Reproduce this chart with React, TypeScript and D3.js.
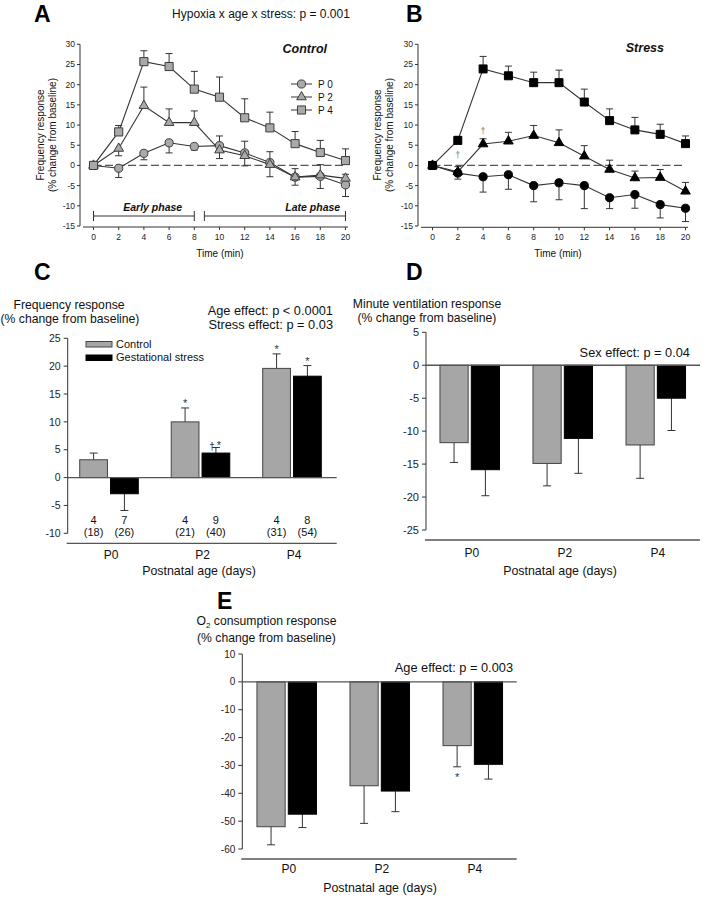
import React from "react";
import * as d3 from "d3";

const FONT = "'Liberation Sans', Arial, Helvetica, sans-serif";

// ---------- Panels A & B : time course ----------
const timeMin = [0, 2, 4, 6, 8, 10, 12, 14, 16, 18, 20];
const timeTicks = [0, 2, 4, 6, 8, 10, 12, 14, 16, 18, 20];
const freqTicks = [30, 25, 20, 15, 10, 5, 0, -5, -10, -15];
const ageNames = ["P 0", "P 2", "P 4"];

const ctrlP0 = [0, -0.7, 3.0, 5.6, 4.7, 4.9, 3.1, 0.7, -2.9, -2.7, -4.8];
const ctrlP0Err = [0, 2.3, 1.6, 2.5, 0.9, 2.4, 2.9, 2.7, 2.1, 3.0, 2.9];
const ctrlP0Dir = [1, -1, -1, -1, -1, 1, 1, 1, 1, -1, -1];
const ctrlP2 = [0, 4.2, 14.8, 10.6, 10.6, 3.8, 2.4, 0.2, -2.9, -2.4, -3.2];
const ctrlP2Err = [0, 1.8, 4.6, 3.4, 2.9, 2.1, 2.5, 3.0, 2.0, 2.6, 1.0];
const ctrlP2Dir = [1, -1, 1, 1, 1, -1, -1, -1, -1, 1, 1];
const ctrlP4 = [0, 8.3, 25.7, 24.5, 18.9, 16.9, 11.8, 9.3, 5.4, 3.2, 1.2];
const ctrlP4Err = [0, 1.6, 2.7, 3.2, 4.4, 5.0, 4.7, 3.9, 3.0, 3.0, 2.9];
const ctrlP4Dir = [1, 1, 1, 1, 1, 1, 1, 1, 1, 1, 1];

const stressP0 = [0, -1.9, -2.8, -2.3, -5.0, -4.3, -5.0, -8.0, -7.2, -9.7, -10.6];
const stressP0Err = [0, 1.5, 3.8, 3.6, 4.0, 4.2, 5.7, 2.7, 3.4, 3.3, 3.3];
const stressP0Dir = [-1, -1, -1, -1, -1, -1, -1, -1, -1, -1, -1];
const stressP2 = [0, -1.6, 5.3, 6.0, 7.4, 5.6, 2.3, -1.0, -3.1, -3.0, -6.4];
const stressP2Err = [0, 1.3, 1.3, 2.2, 2.5, 3.2, 2.6, 2.3, 1.7, 2.0, 2.2];
const stressP2Dir = [1, 1, 1, 1, 1, 1, 1, 1, 1, 1, 1];
const stressP4 = [0, 6.2, 23.9, 22.2, 20.5, 20.5, 15.7, 11.1, 8.8, 7.7, 5.4];
const stressP4Err = [0, 1.0, 3.1, 2.4, 2.6, 3.1, 3.2, 2.9, 3.1, 2.5, 1.9];
const stressP4Dir = [1, 1, 1, 1, 1, 1, 1, 1, 1, 1, 1];

const stressDaggerTimes = [2, 4];
const stressDaggerValues = [2.5, 8.5];

const phaseLabels = ["Early phase", "Late phase"];
const phaseStart = [0, 8.8];
const phaseEnd = [8, 20];
const phaseLabelAt = [4.7, 17.4];

// ---------- Panels C, D, E : bar charts ----------
const ageGroups = ["P0", "P2", "P4"];
const groupNames = ["Control", "Gestational stress"];

const freqTicksC = [25, 20, 15, 10, 5, 0, -5, -10];
const freqCtrl = [3.2, 10.0, 19.6];
const freqCtrlErr = [1.2, 2.5, 2.6];
const freqStress = [-2.9, 4.4, 18.2];
const freqStressErr = [3.0, 1.0, 1.9];
const freqCtrlMarks = ["", "*", "*"];
const freqStressMarks = ["", "†*", "*"];
const littersCtrl = [4, 4, 4];
const pupsCtrl = [18, 21, 31];
const littersStress = [7, 9, 8];
const pupsStress = [26, 40, 54];

const veTicks = [5, 0, -5, -10, -15, -20, -25];
const veCtrl = [-11.75, -14.9, -12.1];
const veCtrlErr = [3.0, 3.4, 5.05];
const veStress = [-15.85, -11.1, -5.0];
const veStressErr = [3.95, 5.3, 4.9];

const o2Ticks = [10, 0, -10, -20, -30, -40, -50, -60];
const o2Ctrl = [-52.0, -37.3, -22.9];
const o2CtrlErr = [6.5, 13.5, 7.6];
const o2Stress = [-47.5, -39.2, -29.6];
const o2StressErr = [4.8, 7.4, 5.3];
const o2CtrlMarks = ["", "", "*"];
const noMarks = ["", "", ""];

const AX = "#333";

type Series = {
  name: string;
  values: number[];
  errs: number[];
  dirs: number[];
  shape: d3.SymbolType;
  size: number;
};

function TimePanel(props: {
  x0: number;
  x1: number;
  axisX: number;
  axisY: number;
  lineStart: number;
  lineEnd: number;
  series: Series[];
  fill: string;
  stroke: string;
  extra?: (x: d3.ScaleLinear<number, number>, y: d3.ScaleLinear<number, number>) => React.ReactNode;
}) {
  const { x0, x1, axisX, axisY, lineStart, lineEnd, series, fill, stroke } = props;
  const x = d3.scaleLinear().domain([0, 20]).range([x0, x1]);
  const y = d3.scaleLinear().domain([-15, 30]).range([226, 44.3]);
  const line = d3
    .line<number>()
    .x((_, i) => x(timeMin[i]))
    .y((d) => y(d));
  return (
    <g fontFamily={FONT}>
      <line x1={axisX} x2={axisX} y1={y(30)} y2={y(-15)} stroke={AX} strokeWidth={1} />
      {freqTicks.map((t) => (
        <g key={t}>
          <line x1={axisX - 3} x2={axisX} y1={y(t)} y2={y(t)} stroke={AX} />
          <text x={axisX - 5} y={y(t)} dy="0.34em" textAnchor="end" fontSize={8.5} fill="#222">
            {String(t)}
          </text>
        </g>
      ))}
      <line x1={lineStart} x2={lineEnd} y1={axisY} y2={axisY} stroke={AX} />
      {timeTicks.map((t) => (
        <g key={t}>
          <line x1={x(t)} x2={x(t)} y1={axisY} y2={axisY + 3} stroke={AX} />
          <text x={x(t)} y={axisY + 12.5} textAnchor="middle" fontSize={8.5} fill="#222">
            {String(t)}
          </text>
        </g>
      ))}
      <line
        x1={x(0)}
        x2={x(20)}
        y1={y(0)}
        y2={y(0)}
        stroke="#555"
        strokeWidth={1.3}
        strokeDasharray="8,3.5"
      />
      {series.map((s) => (
        <g key={s.name + "e"}>
          {s.values.map((v, i) =>
            s.errs[i] > 0 ? (
              <g key={i} stroke="#333" strokeWidth={1}>
                <line x1={x(timeMin[i])} x2={x(timeMin[i])} y1={y(v)} y2={y(v + s.dirs[i] * s.errs[i])} />
                <line
                  x1={x(timeMin[i]) - 3.5}
                  x2={x(timeMin[i]) + 3.5}
                  y1={y(v + s.dirs[i] * s.errs[i])}
                  y2={y(v + s.dirs[i] * s.errs[i])}
                />
              </g>
            ) : null
          )}
        </g>
      ))}
      {series.map((s) => (
        <path key={s.name + "l"} d={line(s.values) || ""} fill="none" stroke="#333" strokeWidth={1.1} />
      ))}
      {series.map((s) => (
        <g key={s.name + "m"}>
          {s.values.map((v, i) => (
            <path
              key={i}
              transform={`translate(${x(timeMin[i])},${y(v)})`}
              d={d3.symbol().type(s.shape).size(s.size)() || ""}
              fill={fill}
              stroke={stroke}
              strokeWidth={1}
            />
          ))}
        </g>
      ))}
      {props.extra ? props.extra(x, y) : null}
    </g>
  );
}

function BarPanel(props: {
  axisX: number;
  xEnd: number;
  bandRange: [number, number];
  yDomain: [number, number];
  yRange: [number, number];
  ticks: number[];
  bottomY: number;
  catY: number;
  tickFont: number;
  ctrl: number[];
  ctrlErr: number[];
  stress: number[];
  stressErr: number[];
  ctrlMarks: string[];
  stressMarks: string[];
}) {
  const p = props;
  const y = d3.scaleLinear().domain(p.yDomain).range(p.yRange);
  const xg = d3.scaleBand().domain(ageGroups).range(p.bandRange).paddingInner(0.36).paddingOuter(0.15);
  const xs = d3.scaleBand().domain(groupNames).range([0, xg.bandwidth()]).paddingInner(0.1);
  const bars = [
    { name: groupNames[0], vals: p.ctrl, errs: p.ctrlErr, marks: p.ctrlMarks, fill: "#a6a6a6", stroke: "#444" },
    { name: groupNames[1], vals: p.stress, errs: p.stressErr, marks: p.stressMarks, fill: "#000", stroke: "#000" },
  ];
  const [dMin, dMax] = p.yDomain;
  return (
    <g fontFamily={FONT}>
      <line x1={p.axisX} x2={p.axisX} y1={y(dMax)} y2={y(dMin)} stroke={AX} />
      {p.ticks.map((t) => (
        <g key={t}>
          <line x1={p.axisX - 4} x2={p.axisX} y1={y(t)} y2={y(t)} stroke={AX} />
          <text x={p.axisX - 7} y={y(t)} dy="0.35em" textAnchor="end" fontSize={p.tickFont} fill="#222">
            {String(t)}
          </text>
        </g>
      ))}
      {bars.map((b) =>
        b.vals.map((v, i) => {
          const bx = (xg(ageGroups[i]) || 0) + (xs(b.name) || 0);
          const w = xs.bandwidth();
          const dir = v >= 0 ? 1 : -1;
          const cap = y(v + dir * b.errs[i]);
          const cx = bx + w / 2;
          return (
            <g key={b.name + i}>
              <line x1={cx} x2={cx} y1={y(v)} y2={cap} stroke="#333" strokeWidth={1} />
              <line x1={cx - 4} x2={cx + 4} y1={cap} y2={cap} stroke="#333" strokeWidth={1} />
              <rect
                x={bx}
                y={Math.min(y(v), y(0))}
                width={w}
                height={Math.abs(y(v) - y(0))}
                fill={b.fill}
                stroke={b.stroke}
                strokeWidth={1}
              />
              {b.marks[i] === "†*" ? (
                <g fill="#333">
                  <text x={cx - 4} y={cap + 2} textAnchor="middle" fontSize={10}>
                    †
                  </text>
                  <text x={cx + 3} y={cap + 1} textAnchor="middle" fontSize={11}>
                    *
                  </text>
                </g>
              ) : b.marks[i] ? (
                <text
                  x={cx}
                  y={dir > 0 ? cap - 0.5 : cap + 14}
                  textAnchor="middle"
                  fontSize={11}
                  fill="#333"
                >
                  {b.marks[i]}
                </text>
              ) : null}
            </g>
          );
        })
      )}
      <line x1={p.axisX} x2={p.xEnd} y1={y(0)} y2={y(0)} stroke="#555" strokeWidth={1.3} />
      <line x1={p.axisX - 1} x2={p.xEnd} y1={p.bottomY} y2={p.bottomY} stroke="#555" strokeWidth={1.3} />
      {ageGroups.map((g) => (
        <text
          key={g}
          x={(xg(g) || 0) + xg.bandwidth() / 2 + 2}
          y={p.catY}
          textAnchor="middle"
          fontSize={12}
          fill="#111"
        >
          {g}
        </text>
      ))}
    </g>
  );
}

export default function App() {
  const ctrlSeries: Series[] = [
    { name: ageNames[0], values: ctrlP0, errs: ctrlP0Err, dirs: ctrlP0Dir, shape: d3.symbolCircle, size: 52 },
    { name: ageNames[1], values: ctrlP2, errs: ctrlP2Err, dirs: ctrlP2Dir, shape: d3.symbolTriangle, size: 40 },
    { name: ageNames[2], values: ctrlP4, errs: ctrlP4Err, dirs: ctrlP4Dir, shape: d3.symbolSquare, size: 66 },
  ];
  const stressSeries: Series[] = [
    { name: ageNames[0], values: stressP0, errs: stressP0Err, dirs: stressP0Dir, shape: d3.symbolCircle, size: 52 },
    { name: ageNames[1], values: stressP2, errs: stressP2Err, dirs: stressP2Dir, shape: d3.symbolTriangle, size: 40 },
    { name: ageNames[2], values: stressP4, errs: stressP4Err, dirs: stressP4Dir, shape: d3.symbolSquare, size: 64 },
  ];
  const legendShapes = [d3.symbolCircle, d3.symbolTriangle, d3.symbolSquare];
  const legendSizes = [52, 40, 66];

  return (
    <svg
      width={703}
      height={900}
      viewBox="0 0 703 900"
      style={{ position: "absolute", left: 0, top: 0, background: "#fff" }}
      fontFamily={FONT}
    >
      <rect x={0} y={0} width={703} height={900} fill="#fff" />
      {/* Panel letters */}
      <g fontWeight="bold" fontSize={23} fill="#000">
        <text x={34} y={21.7}>A</text>
        <text x={406} y={21.7}>B</text>
        <text x={34} y={280}>C</text>
        <text x={406} y={280}>D</text>
        <text x={217} y={609}>E</text>
      </g>
      <text x={261} y={18} textAnchor="middle" fontSize={12} fill="#111">
        Hypoxia x age x stress: p = 0.001
      </text>

      {/* Panel A */}
      <TimePanel
        x0={93.5}
        x1={345.5}
        axisX={80}
        axisY={227}
        lineStart={83}
        lineEnd={348}
        series={ctrlSeries}
        fill="#a9a9a9"
        stroke="#3c3c3c"
        extra={(x) => (
          <g>
            {phaseLabels.map((lab, i) => (
              <g key={lab} stroke="#333" strokeWidth={1}>
                <line x1={x(phaseStart[i])} x2={x(phaseEnd[i])} y1={216} y2={216} />
                <line x1={x(phaseStart[i])} x2={x(phaseStart[i])} y1={211} y2={221} />
                <line x1={x(phaseEnd[i])} x2={x(phaseEnd[i])} y1={211} y2={221} />
                <text
                  x={x(phaseLabelAt[i])}
                  y={211}
                  textAnchor="middle"
                  fontSize={10.5}
                  fontWeight="bold"
                  fontStyle="italic"
                  stroke="none"
                  fill="#111"
                >
                  {lab}
                </text>
              </g>
            ))}
            {ageNames.map((n, i) => (
              <g key={n}>
                <line x1={291} x2={312} y1={84 + i * 13} y2={84 + i * 13} stroke="#333" />
                <path
                  transform={`translate(301.5,${84 + i * 13})`}
                  d={d3.symbol().type(legendShapes[i]).size(legendSizes[i])() || ""}
                  fill="#a9a9a9"
                  stroke="#3c3c3c"
                />
                <text x={318} y={84 + i * 13} dy="0.36em" fontSize={10} fill="#111">
                  {n}
                </text>
              </g>
            ))}
          </g>
        )}
      />
      <text x={327} y={53} textAnchor="end" fontSize={12.5} fontWeight="bold" fontStyle="italic" fill="#111">
        Control
      </text>
      <text x={220} y={257} textAnchor="middle" fontSize={10} fill="#111">
        Time (min)
      </text>
      <g fontSize={10} fill="#111" textAnchor="middle">
        <text transform="translate(44,135) rotate(-90)">Frequency response</text>
        <text transform="translate(55.5,135) rotate(-90)">(% change from baseline)</text>
      </g>

      {/* Panel B */}
      <TimePanel
        x0={432.5}
        x1={685.5}
        axisX={418}
        axisY={227.3}
        lineStart={421}
        lineEnd={688}
        series={stressSeries}
        fill="#000"
        stroke="#000"
        extra={(x, y) => (
          <g>
            {stressDaggerTimes.map((t, i) => (
              <text
                key={t}
                x={x(t)}
                y={y(stressDaggerValues[i]) + 3}
                textAnchor="middle"
                fontSize={9}
                fill="#777"
              >
                †
              </text>
            ))}
          </g>
        )}
      />
      <text x={664} y={52} textAnchor="end" fontSize={12.5} fontWeight="bold" fontStyle="italic" fill="#111">
        Stress
      </text>
      <text x={558} y={257} textAnchor="middle" fontSize={10} fill="#111">
        Time (min)
      </text>
      <g fontSize={10} fill="#111" textAnchor="middle">
        <text transform="translate(381,135) rotate(-90)">Frequency response</text>
        <text transform="translate(392.5,135) rotate(-90)">(% change from baseline)</text>
      </g>

      {/* Panel C */}
      <g fontSize={12.2} fill="#111" textAnchor="middle">
        <text x={69} y={308.5}>Frequency response</text>
        <text x={70} y={323}>(% change from baseline)</text>
      </g>
      <g fontSize={12.8} fill="#111" textAnchor="end">
        <text x={333} y={314.5}>Age effect: p &lt; 0.0001</text>
        <text x={333} y={328.5}>Stress effect: p = 0.03</text>
      </g>
      <BarPanel
        axisX={67.7}
        xEnd={336.7}
        bandRange={[66, 335]}
        yDomain={[-10, 25]}
        yRange={[533.3, 338.3]}
        ticks={freqTicksC}
        bottomY={543.3}
        catY={558.5}
        tickFont={10.5}
        ctrl={freqCtrl}
        ctrlErr={freqCtrlErr}
        stress={freqStress}
        stressErr={freqStressErr}
        ctrlMarks={freqCtrlMarks}
        stressMarks={freqStressMarks}
      />
      {groupNames.map((g, i) => (
        <g key={g}>
          <rect
            x={86}
            y={341.5 + i * 13.5}
            width={26}
            height={5.5}
            fill={i === 0 ? "#a6a6a6" : "#000"}
            stroke={i === 0 ? "#444" : "#000"}
          />
          <text x={116} y={347.5 + i * 13.5} fontSize={11} fill="#111">
            {g}
          </text>
        </g>
      ))}
      {ageGroups.map((g, i) => {
        const xg = d3.scaleBand().domain(ageGroups).range([66, 335]).paddingInner(0.36).paddingOuter(0.15);
        const xs = d3.scaleBand().domain(groupNames).range([0, xg.bandwidth()]).paddingInner(0.1);
        const c0 = (xg(g) || 0) + (xs(groupNames[0]) || 0) + xs.bandwidth() / 2;
        const c1 = (xg(g) || 0) + (xs(groupNames[1]) || 0) + xs.bandwidth() / 2;
        return (
          <g key={g} fontSize={11} fill="#111" textAnchor="middle">
            <text x={c0} y={523.5}>{String(littersCtrl[i])}</text>
            <text x={c0} y={536}>({pupsCtrl[i]})</text>
            <text x={c1} y={523.5}>{String(littersStress[i])}</text>
            <text x={c1} y={536}>({pupsStress[i]})</text>
          </g>
        );
      })}
      <text x={199} y={575} textAnchor="middle" fontSize={12.4} fill="#111">
        Postnatal age (days)
      </text>

      {/* Panel D */}
      <g fontSize={12.2} fill="#111" textAnchor="middle">
        <text x={427} y={308}>Minute ventilation response</text>
        <text x={427} y={321.5}>(% change from baseline)</text>
      </g>
      <text x={690} y={357} textAnchor="end" fontSize={12.8} fill="#111">
        Sex effect: p = 0.04
      </text>
      <BarPanel
        axisX={426}
        xEnd={700}
        bandRange={[426, 699.5]}
        yDomain={[-25, 5]}
        yRange={[530, 332.3]}
        ticks={veTicks}
        bottomY={540}
        catY={556.5}
        tickFont={11}
        ctrl={veCtrl}
        ctrlErr={veCtrlErr}
        stress={veStress}
        stressErr={veStressErr}
        ctrlMarks={noMarks}
        stressMarks={noMarks}
      />
      <text x={560} y={575} textAnchor="middle" fontSize={12.4} fill="#111">
        Postnatal age (days)
      </text>

      {/* Panel E */}
      <g fontSize={12.2} fill="#111" textAnchor="middle">
        <text x={266.5} y={624.5}>
          <tspan>O</tspan>
          <tspan fontSize={8} dy={3}>2</tspan>
          <tspan dy={-3}> consumption response</tspan>
        </text>
        <text x={266.5} y={642}>(% change from baseline)</text>
      </g>
      <text x={513} y={672} textAnchor="end" fontSize={12.8} fill="#111">
        Age effect: p = 0.003
      </text>
      <BarPanel
        axisX={242.3}
        xEnd={516.7}
        bandRange={[243, 516.5]}
        yDomain={[-60, 10]}
        yRange={[849, 654]}
        ticks={o2Ticks}
        bottomY={859}
        catY={873}
        tickFont={10}
        ctrl={o2Ctrl}
        ctrlErr={o2CtrlErr}
        stress={o2Stress}
        stressErr={o2StressErr}
        ctrlMarks={o2CtrlMarks}
        stressMarks={noMarks}
      />
      <text x={380} y={891.5} textAnchor="middle" fontSize={12.4} fill="#111">
        Postnatal age (days)
      </text>
    </svg>
  );
}
